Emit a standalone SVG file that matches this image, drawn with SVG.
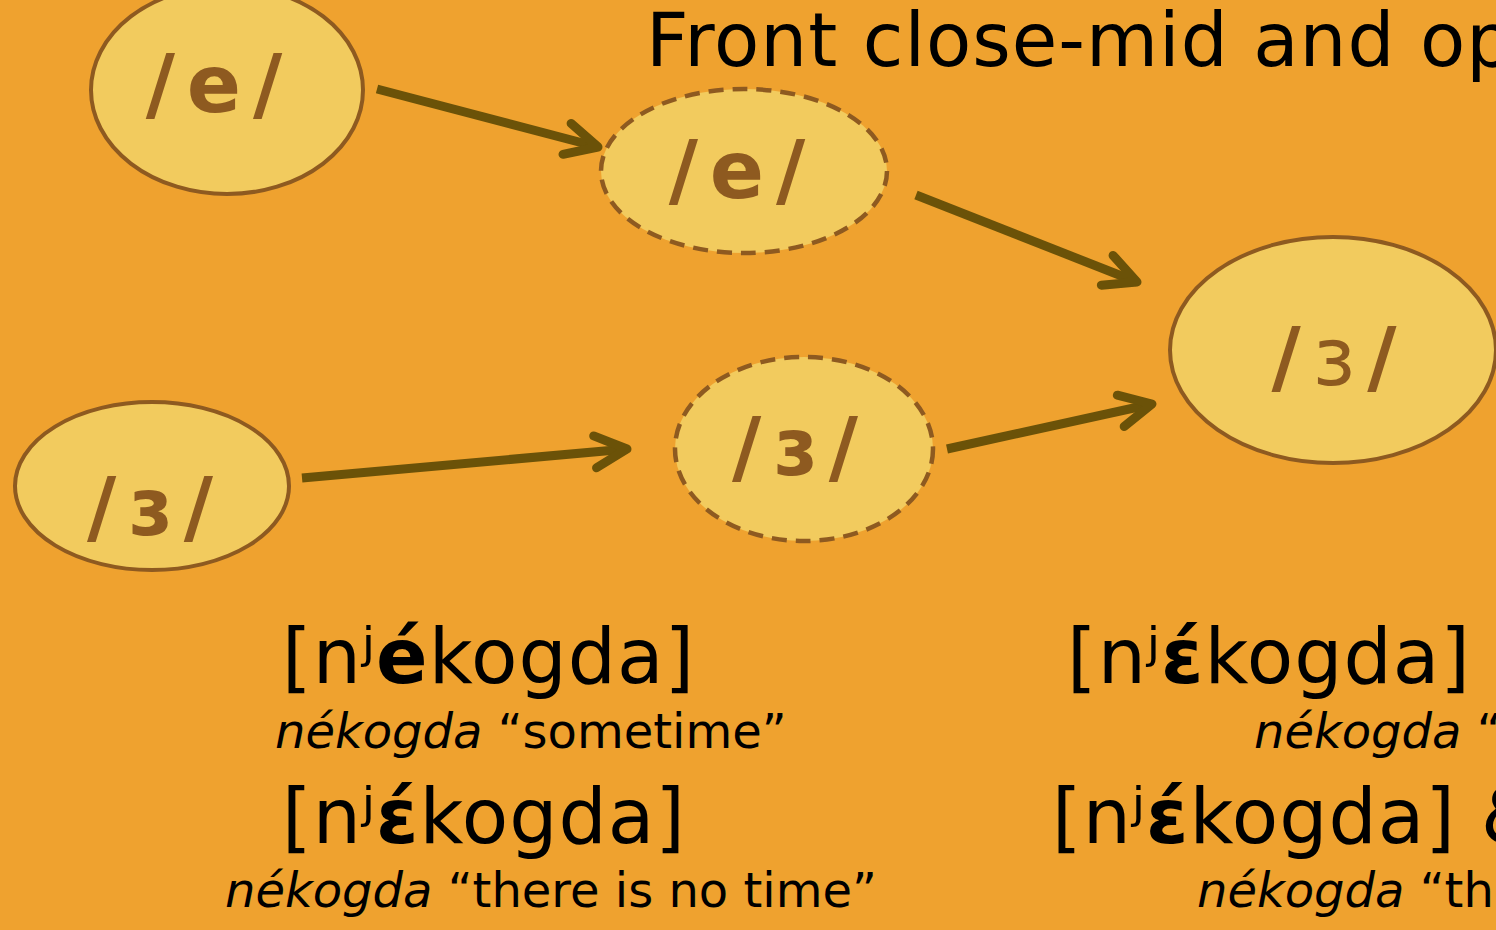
<svg xmlns="http://www.w3.org/2000/svg" width="1496" height="930" viewBox="0 0 1496 930">
  <style>
    .node { fill: #F2CB5E; stroke: #8E5A20; stroke-width: 4; }
    .dash { stroke-width: 4.5; stroke-dasharray: 15 9; }
    .lbl { font-family: "DejaVu Sans", Verdana, sans-serif; font-weight: bold; font-size: 80px; fill: #8E5A20; text-anchor: middle; letter-spacing: 12px; }
    .conn { stroke: #6B5208; stroke-width: 9; fill: none; stroke-linecap: butt; marker-end: url(#arr); }
    .title { font-family: "DejaVu Sans", Verdana, sans-serif; font-size: 74px; fill: #000; letter-spacing: 1px; }
    .ipa { font-family: "DejaVu Sans", Verdana, sans-serif; font-size: 76px; fill: #000; letter-spacing: 1px; }
    .gloss { font-family: "DejaVu Sans", Verdana, sans-serif; font-size: 48px; fill: #000; }
    .b { font-weight: bold; }
    .i { font-style: italic; }
  </style>
  <defs>
    <marker id="arr" markerUnits="userSpaceOnUse" markerWidth="60" markerHeight="60" viewBox="-50 -30 60 60" refX="0" refY="0" orient="auto" overflow="visible">
      <path d="M-32,-16 L0,0 L-32,16" fill="none" stroke="#6B5208" stroke-width="9" stroke-linecap="round" stroke-linejoin="round"/>
    </marker>
  </defs>
  <rect x="0" y="0" width="1496" height="930" fill="#EFA22F"/>

  <text class="title" x="646" y="66">Front close-mid and op</text>

  <g id="connectors">
    <line class="conn" x1="377" y1="89" x2="598" y2="147"/>
    <line class="conn" x1="916" y1="195" x2="1137" y2="282"/>
    <line class="conn" x1="302" y1="478" x2="627" y2="449"/>
    <line class="conn" x1="947" y1="449" x2="1152" y2="404"/>
  </g>

  <g id="node-e-old">
    <ellipse class="node" cx="227" cy="90" rx="136" ry="104"/>
    <text class="lbl" x="220" y="112">/e/</text>
  </g>
  <g id="node-e-mid">
    <ellipse class="node dash" cx="744" cy="171" rx="143" ry="82"/>
    <text class="lbl" x="743" y="198">/e/</text>
  </g>
  <g id="node-eps-new">
    <ellipse class="node" cx="1333" cy="350" rx="163" ry="113"/>
    <text class="lbl" x="1340" y="385">/<tspan font-weight="normal">ɜ</tspan>/</text>
  </g>
  <g id="node-eps-old">
    <ellipse class="node" cx="152" cy="486" rx="137" ry="84"/>
    <text class="lbl" x="156" y="535">/ɜ/</text>
  </g>
  <g id="node-eps-mid">
    <ellipse class="node dash" cx="804" cy="449" rx="129" ry="92"/>
    <text class="lbl" x="801" y="475">/ɜ/</text>
  </g>

  <g id="examples-left">
    <text class="ipa" x="282" y="683">[nʲ<tspan class="b">é</tspan>kogda]</text>
    <text class="gloss" x="275" y="748"><tspan class="i">nékogda</tspan> “sometime”</text>
    <text class="ipa" x="282" y="843">[nʲ<tspan class="b">ɛ́</tspan>kogda]</text>
    <text class="gloss" x="225" y="907"><tspan class="i">nékogda</tspan> “there is no time”</text>
  </g>
  <g id="examples-right">
    <text class="ipa" x="1067" y="683">[nʲ<tspan class="b">ɛ́</tspan>kogda]</text>
    <text class="gloss" x="1254" y="748"><tspan class="i">nékogda</tspan> “</text>
    <text class="ipa" x="1052" y="843">[nʲ<tspan class="b">ɛ́</tspan>kogda] &amp;</text>
    <text class="gloss" x="1197" y="907"><tspan class="i">nékogda</tspan> “the</text>
  </g>
</svg>
